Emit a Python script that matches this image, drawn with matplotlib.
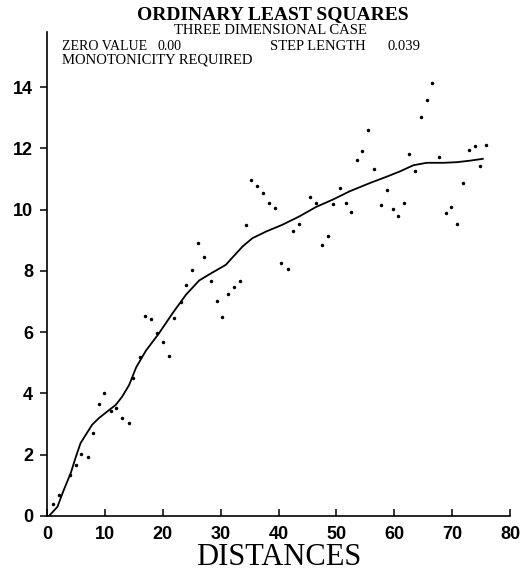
import numpy as np
from matplotlib import pyplot as plt

# observed dissimilarities vs distances
dist = [1.0, 2.0, 4.0, 5.0, 5.9, 7.0, 8.0, 9.0, 9.9, 11.0, 12.0, 13.0, 14.1,
        14.8, 16.0, 17.0, 18.0, 19.0, 20.1, 21.1, 22.0, 23.1, 24.1, 25.1,
        26.1, 27.2, 28.3, 29.3, 30.3, 31.3, 32.3, 33.4, 34.4, 35.2, 36.3,
        37.4, 38.4, 39.4, 40.5, 41.6, 42.5, 43.5, 45.5, 46.5, 47.6, 48.5,
        49.5, 50.6, 51.6, 52.5, 53.5, 54.5, 55.5, 56.5, 57.7, 58.7, 59.7,
        60.7, 61.7, 62.6, 63.6, 64.6, 65.6, 66.6, 67.8, 68.9, 69.8, 70.9,
        71.9, 72.9, 73.9, 74.9, 75.9]
obs = [0.38, 0.70, 1.34, 1.67, 2.02, 1.92, 2.71, 3.65, 4.02, 3.43, 3.54, 3.21,
       3.04, 4.52, 5.19, 6.53, 6.42, 5.97, 5.69, 5.21, 6.46, 6.98, 7.55, 8.04,
       8.92, 8.46, 7.66, 7.03, 6.48, 7.26, 7.46, 7.67, 9.51, 10.96, 10.78,
       10.55, 10.21, 10.05, 8.27, 8.07, 9.30, 9.53, 10.41, 10.22, 8.86, 9.15,
       10.17, 10.70, 10.21, 9.94, 11.62, 11.90, 12.61, 11.32, 10.16, 10.64,
       10.01, 9.78, 10.22, 11.81, 11.25, 13.03, 13.58, 14.13, 11.72, 9.89,
       10.09, 9.52, 10.88, 11.94, 12.09, 11.44, 12.11]

# fitted curve
fit_x = [0.35, 1.8, 2.9, 4.1, 5.0, 5.8, 6.7, 7.8, 9.0, 10.4, 11.9, 13.0, 14.2,
         15.4, 17.1, 19.3, 21.7, 24.0, 26.3, 28.6, 30.9, 32.1, 33.8, 35.5,
         37.9, 40.7, 43.6, 46.5, 49.4, 52.3, 55.8, 58.6, 61.0, 63.3, 65.6,
         68.5, 70.8, 73.1, 75.3]
fit_y = [0.0, 0.30, 0.85, 1.40, 1.94, 2.38, 2.65, 2.98, 3.20, 3.41, 3.63, 3.90,
         4.28, 4.85, 5.40, 5.95, 6.62, 7.22, 7.69, 7.95, 8.20, 8.45, 8.80, 9.07,
         9.29, 9.51, 9.78, 10.09, 10.33, 10.60, 10.87, 11.07, 11.25, 11.45,
         11.53, 11.53, 11.55, 11.60, 11.66]

xticks = [0, 10, 20, 30, 40, 50, 60, 70, 80]
yticks = [0, 2, 4, 6, 8, 10, 12, 14]

serif = 'Liberation Serif'
sans = 'Liberation Sans'

fig = plt.figure(figsize=(5.32, 5.8), dpi=100)
ax = fig.add_axes([47/532, 64/580, 463/532, 484/580])

ax.plot(dist, obs, 'k.', markersize=3)
ax.plot(fit_x, fit_y, 'k-', lw=1.3)

ax.set_xlim(0, 80)
ax.set_ylim(0, 15.8)
ax.set_xticks(xticks)
ax.set_yticks(yticks)
ax.spines['top'].set_visible(False)
ax.spines['right'].set_visible(False)
ax.spines['left'].set_linewidth(1.2)
ax.spines['bottom'].set_linewidth(1.2)
ax.tick_params(axis='x', direction='in', length=5, width=1.1, pad=7)
ax.tick_params(axis='y', direction='out', length=5, width=1.1, pad=5)
for lab in ax.get_xticklabels() + ax.get_yticklabels():
    lab.set_fontfamily(sans)
    lab.set_fontweight('bold')
    lab.set_fontsize(13)

ax.set_xlabel('DISTANCES', fontfamily=serif, fontsize=22, labelpad=0)

def ftext(px, py, s, **kw):
    fig.text(px/532, 1 - py/580, s, fontfamily=serif, **kw)

ftext(273, 15, 'ORDINARY LEAST SQUARES', fontsize=14, fontweight='bold',
      ha='center', va='center')
ftext(270, 31, 'THREE DIMENSIONAL CASE', fontsize=10.5, ha='center', va='center')
ftext(62, 46, 'ZERO VALUE', fontsize=10, ha='left', va='center')
ftext(157, 46, '0.00', fontsize=10, ha='left', va='center')
ftext(270, 46, 'STEP LENGTH', fontsize=10.5, ha='left', va='center')
ftext(388, 46, '0.039', fontsize=10.5, ha='left', va='center')
ftext(62, 60, 'MONOTONICITY REQUIRED', fontsize=10.5, ha='left', va='center')

plt.savefig('out.png', dpi=100)
